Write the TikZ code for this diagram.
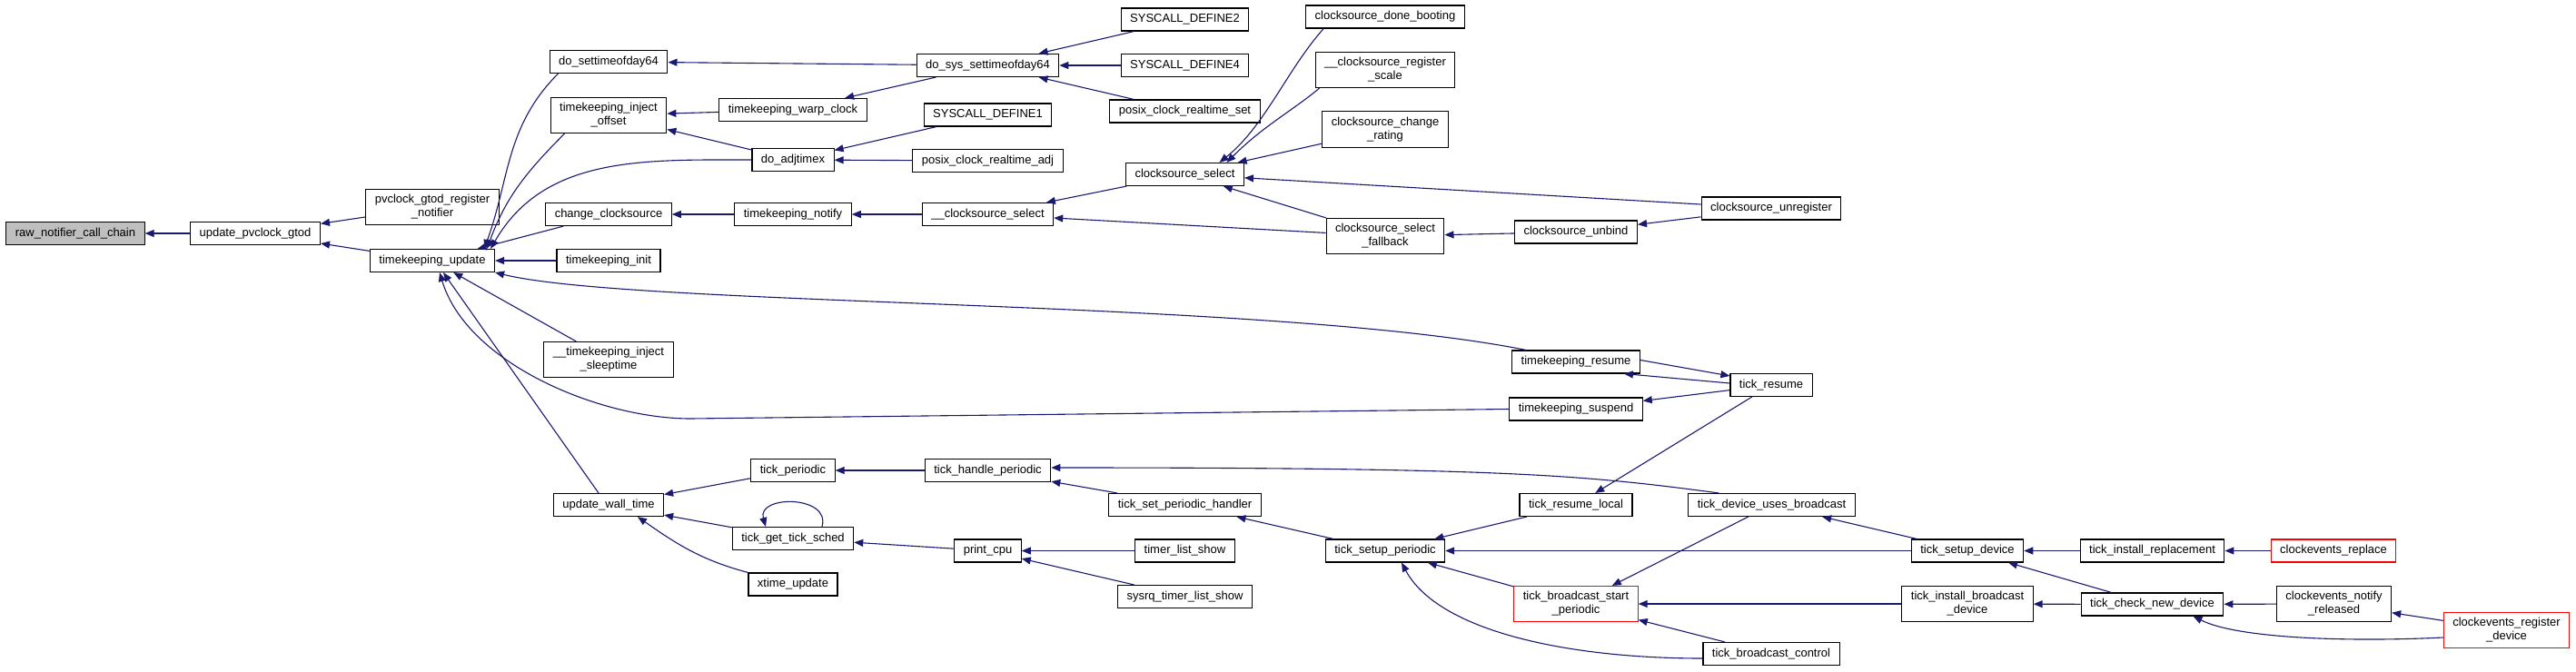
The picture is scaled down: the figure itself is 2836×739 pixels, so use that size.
\documentclass[tikz,border=0pt]{standalone}
\usepackage{fontspec}
\setmainfont{Liberation Sans}
\usepackage{tikz}
\usetikzlibrary{arrows.meta}
\definecolor{CallNavy}{HTML}{191970}
\definecolor{RootGray}{HTML}{BFBFBF}
\definecolor{TruncRed}{HTML}{FF0000}
\tikzset{
  fnbox/.style={draw=black,fill=white,line width=1.1pt,align=center,inner xsep=10pt,inner ysep=6pt,minimum height=25pt,font=\fontsize{13}{15}\selectfont},
  fnroot/.style={fnbox,fill=RootGray},
  fntrunc/.style={fnbox,draw=TruncRed},
  callarrow/.style={arrows={Triangle[length=10pt,width=8pt]-},line width=1.1pt,draw=CallNavy}
}

\begin{document}
\begin{tikzpicture}[x=1pt,y=1pt]
\useasboundingbox (0,0) rectangle (2836,-739);
% callees on the left, callers to the right
\node[fnroot] (raw) at (83,-257) {raw\_notifier\_call\_chain};
\node[fnbox] (upg) at (281,-257) {update\_pvclock\_gtod};
\node[fnbox] (pgr) at (476,-228) {pvclock\_gtod\_register\\\_notifier};
\node[fnbox] (tku) at (476,-287) {timekeeping\_update};
\node[fnbox] (dsd) at (670,-68) {do\_settimeofday64};
\node[fnbox] (tio) at (670,-127) {timekeeping\_inject\\\_offset};
\node[fnbox] (ccs) at (670,-236) {change\_clocksource};
\node[fnbox] (tki) at (670,-287) {timekeeping\_init};
\node[fnbox] (tis) at (670,-396) {\_\_timekeeping\_inject\\\_sleeptime};
\node[fnbox] (uwt) at (670,-556) {update\_wall\_time};
\node[fnbox] (twc) at (873,-121) {timekeeping\_warp\_clock};
\node[fnbox] (dadj) at (873,-176) {do\_adjtimex};
\node[fnbox] (tkn) at (873,-236) {timekeeping\_notify};
\node[fnbox] (tp) at (873,-518) {tick\_periodic};
\node[fnbox] (tgts) at (873,-593) {tick\_get\_tick\_sched};
\node[fnbox] (xu) at (873,-643.5) {xtime\_update};
\node[fnbox] (dssd) at (1087.5,-72) {do\_sys\_settimeofday64};
\node[fnbox] (sd1) at (1087.5,-126.5) {SYSCALL\_DEFINE1};
\node[fnbox] (pcra) at (1087.5,-177) {posix\_clock\_realtime\_adj};
\node[fnbox] (xcss) at (1087.5,-236) {\_\_clocksource\_select};
\node[fnbox] (thp) at (1087.5,-518) {tick\_handle\_periodic};
\node[fnbox] (pc) at (1087.5,-606.5) {print\_cpu};
\node[fnbox] (sd2) at (1304.5,-21.5) {SYSCALL\_DEFINE2};
\node[fnbox] (sd4) at (1304.5,-72) {SYSCALL\_DEFINE4};
\node[fnbox] (pcrs) at (1304.5,-122.5) {posix\_clock\_realtime\_set};
\node[fnbox] (css) at (1304.5,-192) {clocksource\_select};
\node[fnbox] (tsph) at (1304.5,-556) {tick\_set\_periodic\_handler};
\node[fnbox] (tls) at (1304.5,-606.5) {timer\_list\_show};
\node[fnbox] (stls) at (1304.5,-657) {sysrq\_timer\_list\_show};
\node[fnbox] (cdb) at (1525,-18.5) {clocksource\_done\_booting};
\node[fnbox] (crs) at (1525,-77) {\_\_clocksource\_register\\\_scale};
\node[fnbox] (ccr) at (1525,-142.5) {clocksource\_change\\\_rating};
\node[fnbox] (csf) at (1525,-260) {clocksource\_select\\\_fallback};
\node[fnbox] (tsp) at (1525,-606.5) {tick\_setup\_periodic};
\node[fnbox] (csub) at (1735,-255.5) {clocksource\_unbind};
\node[fnbox] (tkr) at (1735,-398.5) {timekeeping\_resume};
\node[fnbox] (tks) at (1735,-450.5) {timekeeping\_suspend};
\node[fnbox] (trl) at (1735,-556) {tick\_resume\_local};
\node[fntrunc] (tbsp) at (1735,-665) {tick\_broadcast\_start\\\_periodic};
\node[fnbox] (csu) at (1950,-229.5) {clocksource\_unregister};
\node[fnbox] (tres) at (1950,-424) {tick\_resume};
\node[fnbox] (tdub) at (1950.5,-556) {tick\_device\_uses\_broadcast};
\node[fnbox] (tbc) at (1950,-720) {tick\_broadcast\_control};
\node[fnbox] (tsd) at (2166,-606.5) {tick\_setup\_device};
\node[fnbox] (tibd) at (2166,-665) {tick\_install\_broadcast\\\_device};
\node[fnbox] (tir) at (2369.5,-606.5) {tick\_install\_replacement};
\node[fnbox] (tcnd) at (2369.5,-665.5) {tick\_check\_new\_device};
\node[fntrunc] (cer) at (2569,-606.5) {clockevents\_replace};
\node[fnbox] (cenr) at (2569.5,-665) {clockevents\_notify\\\_released};
\node[fntrunc] (cerd) at (2759.5,-694) {clockevents\_register\\\_device};
\coordinate (tksbend) at (760,-461);
% edges
\draw[callarrow] (raw) -- (upg);
\draw[callarrow] (upg) -- (pgr);
\draw[callarrow] (upg) -- (tku);
\draw[callarrow] ([xshift=-12pt]tku.north east) to[out=70,in=-135] ([xshift=10pt]dsd.south west);
\draw[callarrow] ([xshift=-9pt]tku.north east) to[out=70,in=-135] ([xshift=16pt]tio.south west);
\draw[callarrow] ([xshift=-5pt]tku.north east) to[out=60,in=180] (dadj.west);
\draw[callarrow] (tku) -- (ccs);
\draw[callarrow] (tku) -- (tki);
\draw[callarrow] (tku.south east) .. controls +(155,-38) and +(-280,56) .. ([xshift=16pt]tkr.north west);
\draw[callarrow] (tku) -- (tis);
\draw[callarrow] ([xshift=8pt]tku.south) .. controls +(30,-100) and +(-100,0) .. (tksbend) -- (tks.west);
\draw[callarrow] ([xshift=12pt]tku.south) -- ([xshift=-11pt]uwt.north);
\draw[callarrow] (dsd) -- (dssd);
\draw[callarrow] (tio) -- (twc);
\draw[callarrow] (tio) -- (dadj);
\draw[callarrow] (twc) -- (dssd);
\draw[callarrow] (dssd) -- (sd2);
\draw[callarrow] (dssd) -- (sd4);
\draw[callarrow] (dssd) -- (pcrs);
\draw[callarrow] (dadj) -- (sd1);
\draw[callarrow] (dadj) -- (pcra);
\draw[callarrow] (ccs) -- (tkn);
\draw[callarrow] (tkn) -- (xcss);
\draw[callarrow] (xcss) -- (css);
\draw[callarrow] (xcss) -- (csf);
\draw[callarrow] ([xshift=38pt]css.north) .. controls +(50,40) and +(-40,-45) .. ([xshift=20pt]cdb.south west);
\draw[callarrow] ([xshift=46pt]css.north) .. controls +(40,40) and +(-30,-25) .. ([xshift=5pt]crs.south west);
\draw[callarrow] (css) -- (ccr);
\draw[callarrow] (css) -- (csu);
\draw[callarrow] (css) -- (csf);
\draw[callarrow] (csf) -- (csub);
\draw[callarrow] (csub) -- (csu);
\draw[callarrow] ([xshift=-18pt]tkr.south east) -- ([yshift=2pt]tres.west);
\draw[callarrow] ([yshift=-3pt]tres.north west) -- ([yshift=2pt]tkr.east);
\draw[callarrow] (tks) -- (tres);
\draw[callarrow] (trl) -- (tres);
\draw[callarrow] (tsp) -- (trl);
\draw[callarrow] (tsph) -- (tsp);
\draw[callarrow] (thp) -- (tsph);
\draw[callarrow] ([yshift=3pt]thp.east) .. controls +(500,0) and +(-150,20) .. ([xshift=34pt]tdub.north west);
\draw[callarrow] (tp) -- (thp);
\draw[callarrow] (uwt) -- (tp);
\draw[callarrow] (uwt) -- (tgts);
\draw[callarrow] ([xshift=32pt]uwt.south) to[out=-35,in=165] (xu.north west);
\draw[callarrow] ([xshift=-30pt]tgts.north) .. controls +(-10,35) and +(10,35) .. ([xshift=32pt]tgts.north);
\draw[callarrow] (tgts) -- (pc);
\draw[callarrow] (pc) -- (tls);
\draw[callarrow] (pc) -- (stls);
\draw[callarrow] (tsp) -- (tsd);
\draw[callarrow] (tsp) -- (tbsp);
\draw[callarrow] ([xshift=18pt]tsp.south) .. controls +(40,-75) and +(-150,0) .. ([yshift=-5pt]tbc.west);
\draw[callarrow] (tbsp) -- (tdub);
\draw[callarrow] (tbsp) -- (tibd);
\draw[callarrow] (tbsp) -- (tbc);
\draw[callarrow] (tdub) -- (tsd);
\draw[callarrow] (tsd) -- (tir);
\draw[callarrow] (tsd) -- (tcnd);
\draw[callarrow] (tir) -- (cer);
\draw[callarrow] (tibd) -- (tcnd);
\draw[callarrow] (tcnd) -- (cenr);
\draw[callarrow] ([xshift=45pt]tcnd.south) .. controls +(50,-25) and +(-100,-5) .. ([yshift=-8pt]cerd.west);
\draw[callarrow] (cenr) -- (cerd);
\end{tikzpicture}
\end{document}
